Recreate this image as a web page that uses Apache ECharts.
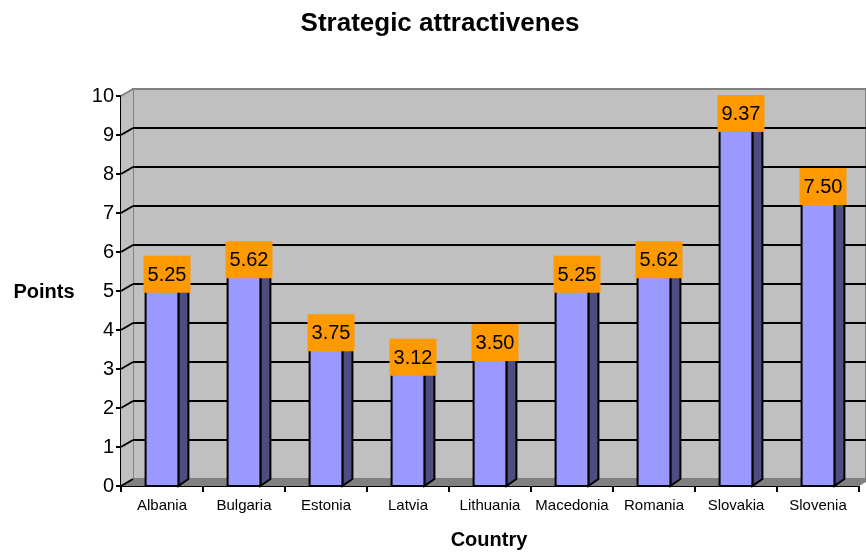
<!DOCTYPE html>
<html>
<head>
<meta charset="utf-8">
<script src="https://cdn.jsdelivr.net/npm/echarts@6/dist/echarts.min.js"></script>
<style>
  html, body { margin: 0; padding: 0; background: #ffffff; }
  #chart { width: 866px; height: 553px; }
</style>
</head>
<body>
<div id="chart"></div>
<script>
// Scores per country
const countries = ['Albania', 'Bulgaria', 'Estonia', 'Latvia', 'Lithuania', 'Macedonia', 'Romania', 'Slovakia', 'Slovenia'];
const points = [5.25, 5.62, 3.75, 3.12, 3.50, 5.25, 5.62, 9.37, 7.50];

// Value axis range
const yMin = 0;
const yMax = 10;
const yStep = 1;

const titleText = 'Strategic attractivenes';
const yName = 'Points';
const xName = 'Country';

const FONT = '"Liberation Sans", Arial, sans-serif';

// Pseudo-3D depth: back wall offset and column depth
const WALL_DX = 12, WALL_DY = -7;
const BAR_DX = 10, BAR_DY = -7;
const BAR_RATIO = 0.4;

const chart = echarts.init(document.getElementById('chart'), null, { renderer: 'canvas' });

// Side wall, floor and the wall tick connectors
function renderFrame(params, api) {
  const n = countries.length;
  const band = api.size([1, 0])[0];
  const first = api.coord([0, yMin]);
  const last = api.coord([n - 1, yMin]);
  const xl = first[0] - band / 2;
  const xr = last[0] + band / 2;
  const yb = first[1];
  const yt = api.coord([0, yMax])[1];
  const children = [];
  children.push({
    type: 'polygon',
    shape: { points: [[xl, yt], [xl + WALL_DX, yt + WALL_DY], [xl + WALL_DX, yb + WALL_DY], [xl, yb]] },
    style: { fill: '#c0c0c0' }
  });
  children.push({
    type: 'polygon',
    shape: { points: [[xl, yb], [xl + WALL_DX, yb + WALL_DY], [xr + WALL_DX, yb + WALL_DY], [xr, yb]] },
    style: { fill: '#808080' }
  });
  for (let v = yMin; v < yMax; v += yStep) {
    const y = api.coord([0, v])[1];
    children.push({
      type: 'line',
      shape: { x1: xl, y1: y, x2: xl + WALL_DX, y2: y + WALL_DY },
      style: { stroke: '#000000', lineWidth: 2 }
    });
  }
  children.push({
    type: 'line',
    shape: { x1: xl, y1: yt, x2: xl + WALL_DX, y2: yt + WALL_DY },
    style: { stroke: '#808080', lineWidth: 2 }
  });
  return { type: 'group', children: children };
}

// Columns with a shaded side face and a value tag
function renderColumn(params, api) {
  const i = api.value(0);
  const v = api.value(1);
  const top = api.coord([i, v]);
  const base = api.coord([i, yMin]);
  const w = api.size([1, 0])[0] * BAR_RATIO;
  const x0 = top[0] - w / 2;
  const x1 = top[0] + w / 2;
  const cx = top[0] + BAR_DX / 2;
  const cy = top[1] + BAR_DY;
  const tagW = 47, tagH = 37;
  return {
    type: 'group',
    children: [
      {
        type: 'polygon',
        shape: { points: [[x1, base[1]], [x1 + BAR_DX, base[1] + BAR_DY], [x1 + BAR_DX, top[1] + BAR_DY], [x1, top[1]]] },
        style: { fill: '#4d4d80', stroke: '#000000', lineWidth: 2 }
      },
      {
        type: 'rect',
        shape: { x: x0, y: top[1], width: w, height: base[1] - top[1] },
        style: { fill: '#9999ff', stroke: '#000000', lineWidth: 2 }
      },
      {
        type: 'rect',
        shape: { x: cx - tagW / 2, y: cy - tagH / 2, width: tagW, height: tagH },
        style: { fill: '#ff9900' }
      },
      {
        type: 'text',
        x: cx, y: cy + 1,
        style: {
          text: v.toFixed(2), font: '20px ' + FONT, fill: '#000000',
          align: 'center', verticalAlign: 'middle',
          textAlign: 'center', textVerticalAlign: 'middle'
        }
      }
    ]
  };
}

const option = {
  backgroundColor: '#ffffff',
  animation: false,
  grid: [
    { left: 121, top: 96, width: 738, height: 390 },
    { left: 133, top: 89, width: 760, height: 390, show: true, backgroundColor: '#c0c0c0', borderColor: '#808080', borderWidth: 2 }
  ],
  xAxis: [
    {
      type: 'category', gridIndex: 0, data: countries, boundaryGap: true,
      axisLine: { show: true, lineStyle: { color: '#000000', width: 2 } },
      axisTick: { show: true, length: 6, lineStyle: { color: '#000000', width: 2 } },
      axisLabel: { color: '#000000', fontSize: 15, fontFamily: FONT, margin: 12, interval: 0 },
      splitLine: { show: false }
    },
    {
      type: 'category', gridIndex: 1, data: countries,
      axisLine: { show: false }, axisTick: { show: false }, axisLabel: { show: false }, splitLine: { show: false }
    }
  ],
  yAxis: [
    {
      type: 'value', gridIndex: 0, min: yMin, max: yMax, interval: yStep,
      axisLine: { show: true, lineStyle: { color: '#000000', width: 2 } },
      axisTick: { show: true, length: 5, lineStyle: { color: '#000000', width: 2 } },
      axisLabel: { color: '#000000', fontSize: 20, fontFamily: FONT, margin: 7 },
      splitLine: { show: false }
    },
    {
      type: 'value', gridIndex: 1, min: yMin, max: yMax, interval: yStep,
      axisLine: { show: false }, axisTick: { show: false }, axisLabel: { show: false },
      splitLine: { show: true, showMinLine: false, showMaxLine: false, lineStyle: { color: '#000000', width: 2 } }
    }
  ],
  graphic: [
    {
      type: 'text', x: 440, y: 24,
      style: { text: titleText, font: 'bold 26px ' + FONT, fill: '#000000', align: 'center', verticalAlign: 'middle', textAlign: 'center', textVerticalAlign: 'middle' }
    },
    {
      type: 'text', x: 44, y: 292,
      style: { text: yName, font: 'bold 20px ' + FONT, fill: '#000000', align: 'center', verticalAlign: 'middle', textAlign: 'center', textVerticalAlign: 'middle' }
    },
    {
      type: 'text', x: 489, y: 540,
      style: { text: xName, font: 'bold 20px ' + FONT, fill: '#000000', align: 'center', verticalAlign: 'middle', textAlign: 'center', textVerticalAlign: 'middle' }
    }
  ],
  series: [
    {
      type: 'custom', name: 'frame', xAxisIndex: 0, yAxisIndex: 0,
      data: [[0, yMin]], renderItem: renderFrame, clip: false, z: 1, silent: true
    },
    {
      type: 'custom', name: 'Points', xAxisIndex: 0, yAxisIndex: 0,
      data: points.map((v, i) => [i, v]), renderItem: renderColumn, clip: false, z: 3,
      encode: { x: 0, y: 1 }
    }
  ]
};

chart.setOption(option);
</script>
</body>
</html>
